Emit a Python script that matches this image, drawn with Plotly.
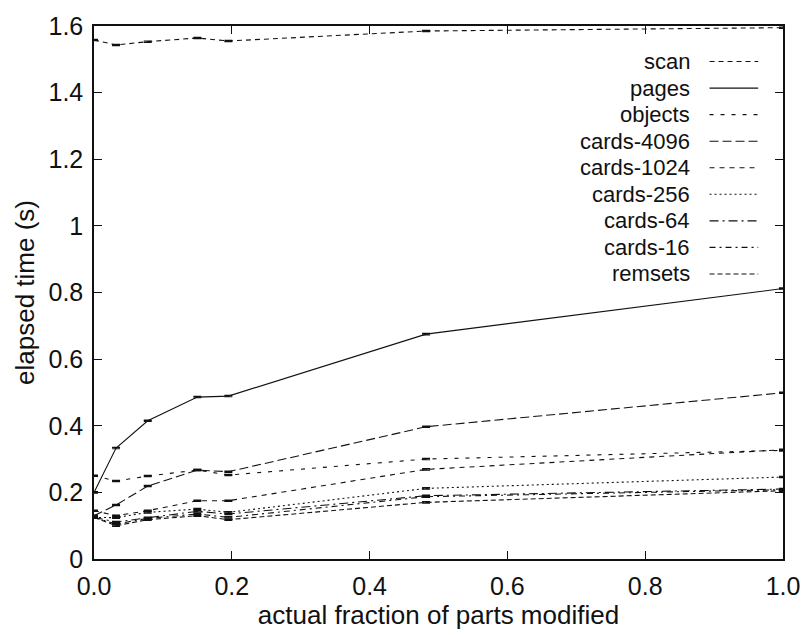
import plotly.graph_objects as go

x_frac = [0.0, 0.032, 0.078, 0.150, 0.195, 0.482, 1.0]

series_names = ["scan", "pages", "objects", "cards-4096", "cards-1024",
                "cards-256", "cards-64", "cards-16", "remsets"]

scan = [1.558, 1.543, 1.553, 1.564, 1.555, 1.585, 1.595]
pages = [0.200, 0.333, 0.415, 0.486, 0.489, 0.675, 0.812]
objects = [0.250, 0.234, 0.249, 0.267, 0.252, 0.300, 0.326]
cards_4096 = [0.130, 0.162, 0.219, 0.267, 0.262, 0.397, 0.499]
cards_1024 = [0.145, 0.130, 0.145, 0.175, 0.175, 0.269, 0.328]
cards_256 = [0.125, 0.124, 0.140, 0.150, 0.140, 0.212, 0.246]
cards_64 = [0.125, 0.111, 0.124, 0.143, 0.135, 0.190, 0.210]
cards_16 = [0.125, 0.105, 0.122, 0.135, 0.125, 0.187, 0.208]
remsets = [0.125, 0.100, 0.118, 0.130, 0.118, 0.170, 0.205]

values = [scan, pages, objects, cards_4096, cards_1024,
          cards_256, cards_64, cards_16, remsets]

dashes = ["5px,4px", "solid", "4px,7px", "9px,4px", "5px,5px",
          "2px,3px", "9px,4px,2px,4px", "6px,4px,2px,4px", "5px,3px"]

x_ticks = [0.0, 0.2, 0.4, 0.6, 0.8, 1.0]
x_tick_labels = ["0.0", "0.2", "0.4", "0.6", "0.8", "1.0"]
y_ticks = [0, 0.2, 0.4, 0.6, 0.8, 1.0, 1.2, 1.4, 1.6]
y_tick_labels = ["0", "0.2", "0.4", "0.6", "0.8", "1", "1.2", "1.4", "1.6"]

FONT = "Liberation Sans"
INK = "#111111"

fig = go.Figure()
for name, vals, dash in zip(series_names, values, dashes):
    fig.add_trace(go.Scatter(
        x=x_frac, y=vals, name=name, mode="lines",
        line=dict(color=INK, width=1.1, dash=dash),
        error_y=dict(type="constant", value=0.002, color=INK,
                     thickness=1.2, width=4),
        showlegend=False,
    ))

# legend drawn as text + line samples (text left, sample right)
row0 = 55
row_step = 26.9
plot_top, plot_h = 19, 540
plot_left, plot_w = 94, 694
for i, (name, dash) in enumerate(zip(series_names, dashes)):
    py = row0 + i * row_step
    yp = (plot_top + plot_h - py) / plot_h
    fig.add_annotation(x=(696 - plot_left) / plot_w, y=yp, xref="paper", yref="paper",
                       text=name, showarrow=False, xanchor="right", yanchor="middle",
                       font=dict(family=FONT, size=22, color=INK))
    fig.add_shape(type="line", xref="paper", yref="paper",
                  x0=(714 - plot_left) / plot_w, x1=(763 - plot_left) / plot_w,
                  y0=yp, y1=yp, line=dict(color=INK, width=1.1, dash=dash))

axis_common = dict(showline=True, linecolor=INK, linewidth=1.5, mirror="ticks",
                   ticks="inside", ticklen=8, tickwidth=1.2, tickcolor=INK,
                   showgrid=False, zeroline=False,
                   tickfont=dict(family=FONT, size=25, color=INK))

fig.update_xaxes(range=[0, 1.0], tickvals=x_ticks, ticktext=x_tick_labels,
                 ticklabelstandoff=4,
                 title=dict(text="actual fraction of parts modified",
                            font=dict(family=FONT, size=26, color=INK), standoff=2),
                 **axis_common)
fig.update_yaxes(range=[0, 1.6], tickvals=y_ticks, ticktext=y_tick_labels,
                 ticklabelstandoff=4,
                 title=dict(text="elapsed time (s)",
                            font=dict(family=FONT, size=26, color=INK), standoff=6),
                 **axis_common)

fig.update_layout(width=812, height=635, plot_bgcolor="white", paper_bgcolor="white",
                  margin=dict(l=94, r=24, t=19, b=76), showlegend=False)

fig.write_html("out.html")
